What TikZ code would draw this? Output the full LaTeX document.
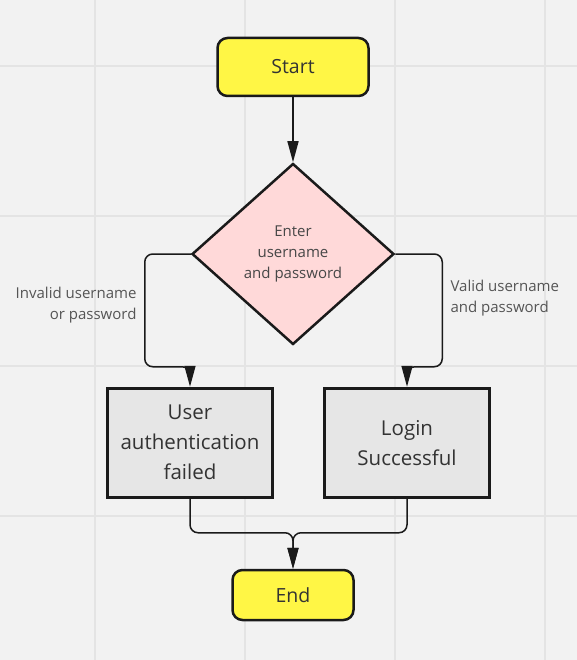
\documentclass[tikz,border=0pt]{standalone}
\usepackage{fontspec}
\setmainfont{Open Sans}
\usepackage{xcolor}
\usetikzlibrary{positioning}
\usetikzlibrary{shapes.geometric}
\usetikzlibrary{arrows.meta}
\definecolor{bgcol}{HTML}{F2F2F2}
\definecolor{gridcol}{HTML}{E4E4E4}
\definecolor{edgecol}{HTML}{1A1A1A}
\definecolor{termcol}{HTML}{FFF645}
\definecolor{deccol}{HTML}{FFD9D9}
\definecolor{boxcol}{HTML}{E6E6E6}
\definecolor{txtcol}{HTML}{333333}
\definecolor{notecol}{HTML}{555555}
\begin{document}
\begin{tikzpicture}[x=1pt,y=-1pt,
    terminal/.style={draw=edgecol, fill=termcol, rounded corners=10pt, line width=2.5pt, minimum width=151pt, minimum height=58pt, font=\fontsize{19.5}{24}\selectfont, text=txtcol},
    decision/.style={diamond, draw=edgecol, fill=deccol, line width=2.5pt, minimum width=202pt, minimum height=181pt, inner sep=1pt, align=center, font=\fontsize{15}{21}\selectfont, text=txtcol!90!white},
    process/.style={rectangle, draw=edgecol, fill=boxcol, line width=3pt, minimum width=165pt, minimum height=109pt, align=center, font=\fontsize{20.5}{30}\selectfont, text=txtcol},
    note/.style={font=\fontsize{15}{21.5}\selectfont, text=notecol},
    conn/.style={draw=edgecol, line width=1.5pt, rounded corners=8pt, -{Triangle[length=21pt,width=11pt]}},
    gridline/.style={draw=gridcol, line width=1.5pt}]
        % background and grid
        \fill[bgcol] (0,0) rectangle (577,660);
        \useasboundingbox (0,0) rectangle (577,660);
        \foreach \gx in {95,245,395,545}
            \draw[gridline] (\gx,0) -- (\gx,660);
        \foreach \gy in {66,216,366,516}
            \draw[gridline] (0,\gy) -- (577,\gy);

        % nodes
        \node[terminal] (start) at (293,67) {Start};
        \node[decision, below=65pt of start] (dec) {Enter\\username\\and password};
        \node[process, below=41pt of dec, xshift=-103pt] (fail) {User\\authentication\\failed};
        \node[process, below=41pt of dec, xshift=114pt] (success) {Login\\Successful};
        \node[terminal, below=70pt of fail, xshift=103pt, minimum width=121pt, minimum height=50pt] (end) {End};

        % labels
        \node[note, align=right, anchor=east] (invalid) at (140,305) {Invalid username\\or password};
        \node[note, align=left, anchor=west] (valid) at (447,298) {Valid username\\and password};

        % edges
        \draw[conn] (start) -- (dec);
        \draw[conn] (dec.west) -- ++(-46,0) |- ([yshift=20pt]fail.north) -- (fail.north);
        \draw[conn] (dec.east) -- ++(47,0) |- ([yshift=20pt]success.north) -- (success.north);
        \draw[conn] (fail.south) -- ++(0,34) -| (end.north);
        \draw[conn] (success.south) -- ++(0,34) -| (end.north);
    \end{tikzpicture}
\end{document}
